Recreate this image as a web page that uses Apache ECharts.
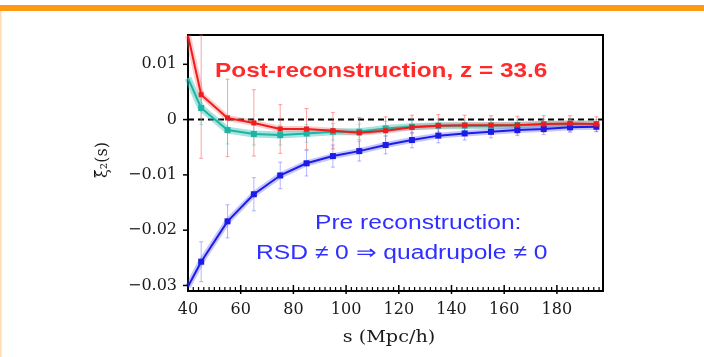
<!DOCTYPE html>
<html>
<head>
<meta charset="utf-8">
<script src="https://cdn.jsdelivr.net/npm/echarts@6/dist/echarts.min.js"></script>
<style>html,body{margin:0;padding:0;background:#fff;}#chart{width:704px;height:357px;}</style>
</head>
<body>
<div id="chart"></div>
<script>
// separation bins s (Mpc/h)
const sValues = [40,45,55,65,75,85,95,105,115,125,135,145,155,165,175,185,195];
// post-reconstruction quadrupole (red) and its errors
const postRecon = [0.0152,0.0045,0.0003,-0.0006,-0.0017,-0.0017,-0.0020,-0.0024,-0.0020,-0.0014,-0.0011,-0.0010,-0.0010,-0.0010,-0.0008,-0.0007,-0.0008];
const postReconErr = [0,0.0115,0.0070,0.0060,0.0044,0.0037,0.0033,0.0028,0.0025,0.0022,0.0020,0.0018,0.0017,0.0016,0.0015,0.0014,0.0013];
// teal curve and its errors
const tealCurve = [0.0075,0.0021,-0.0019,-0.0026,-0.0028,-0.0025,-0.0022,-0.0022,-0.0016,-0.0013,-0.0011,-0.0011,-0.0011,-0.0010,-0.0009,-0.0008,-0.0008];
const tealErr = [0,0.0030,0.0025,0.0020,0.0018,0.0016,0.0015,0.0014,0.0013,0.0012,0.0011,0.0010,0.0010,0.0009,0.0009,0.0008,0.0008];
// pre-reconstruction quadrupole (blue) and its errors
const preRecon = [-0.0302,-0.0257,-0.0184,-0.0135,-0.0101,-0.0079,-0.0066,-0.0057,-0.0046,-0.0037,-0.0029,-0.0025,-0.0022,-0.0019,-0.0017,-0.0014,-0.0013];
const preReconErr = [0,0.0036,0.0030,0.0030,0.0024,0.0023,0.0020,0.0018,0.0016,0.0014,0.0013,0.0012,0.0011,0.0010,0.0010,0.0009,0.0009];
// axes
const xRange = [40, 197.5];
const yRange = [-0.031, 0.0153];
const xTickStep = 20;
const xMinorStep = 2;
const yMajorTicks = [-0.03, -0.02, -0.01, 0, 0.01];
const zeroLineX = [40, 197.5];

const xTickMarks = [];
for (let v = xRange[0] + xMinorStep; v < xRange[1]; v += xMinorStep) {
  xTickMarks.push([v, yRange[0], (v % xTickStep === 0) ? 1 : 0]);
}

const chart = echarts.init(document.getElementById('chart'), null, {renderer: 'canvas'});

function pts(vals) {
  return sValues.map((s, i) => i === 0 ? {value: [s, vals[i]], symbol: 'none'} : [s, vals[i]]);
}
function errData(vals, errs) {
  return sValues.map((s, i) => [s, vals[i] - errs[i], vals[i] + errs[i]]).filter((d, i) => errs[i] > 0);
}
function errSeries(vals, errs, color, z) {
  return {
    type: 'custom', z: z, silent: true,
    data: errData(vals, errs),
    encode: {x: 0, y: [1, 2]},
    renderItem: function (params, api) {
      const x = api.value(0);
      const lo = Math.max(api.value(1), yRange[0]);
      const hi = Math.min(api.value(2), yRange[1]);
      const p1 = api.coord([x, lo]);
      const p2 = api.coord([x, hi]);
      const c = 2;
      const st = {stroke: color, lineWidth: 1};
      return {type: 'group', children: [
        {type: 'line', shape: {x1: p1[0], y1: p1[1], x2: p2[0], y2: p2[1]}, style: st},
        {type: 'line', shape: {x1: p1[0]-c, y1: p1[1], x2: p1[0]+c, y2: p1[1]}, style: st},
        {type: 'line', shape: {x1: p2[0]-c, y1: p2[1], x2: p2[0]+c, y2: p2[1]}, style: st}
      ]};
    }
  };
}
function bandSeries(vals, color, width, z) {
  return {type: 'line', z: z, silent: true, showSymbol: false, symbol: 'none',
    data: sValues.map((s, i) => [s, vals[i]]),
    lineStyle: {color: color, width: width}};
}
function mainSeries(vals, color, z, size) {
  return {type: 'line', z: z, data: pts(vals), symbol: 'rect', symbolSize: size, showSymbol: true,
    itemStyle: {color: color}, lineStyle: {color: color, width: 2}};
}

const option = {
  animation: false,
  grid: {left: 188, right: 101, top: 35, bottom: 66, show: true, borderColor: '#000', borderWidth: 2, backgroundColor: 'transparent'},
  xAxis: {
    type: 'value', min: xRange[0], max: xRange[1], interval: xTickStep,
    axisLine: {show: true, onZero: false, lineStyle: {color: '#000', width: 2}},
    axisTick: {show: false},
    splitLine: {show: false},
    axisLabel: {margin: 11, color: '#1a1a1a', fontFamily: 'DejaVu Serif', fontSize: 16,
      formatter: v => (Math.abs(v % xTickStep) < 1e-9 ? String(v) : '')}
  },
  yAxis: {
    type: 'value', min: yRange[0], max: yRange[1], interval: 0.001,
    axisLine: {show: true, onZero: false, lineStyle: {color: '#000', width: 2}},
    axisTick: {show: false},
    splitLine: {show: false},
    axisLabel: {margin: 11, color: '#1a1a1a', fontFamily: 'DejaVu Serif', fontSize: 16,
      formatter: function (v) {
        const k = Math.round(v * 100);
        if (Math.abs(v * 100 - k) > 1e-6) return '';
        if (k === 0) return '0';
        return (k < 0 ? '\u2212' : '') + (Math.abs(k) / 100).toFixed(2);
      }}
  },
  series: [
    {type: 'custom', z: 20, data: yMajorTicks.map(v => [xRange[0], v]), encode: {x: 0, y: 1},
      renderItem: function (params, api) {
        const p = api.coord([api.value(0), api.value(1)]);
        return {type: 'line', shape: {x1: p[0] - 5, y1: p[1], x2: p[0], y2: p[1]}, style: {stroke: '#000', lineWidth: 1.5}};
      }},
    {type: 'custom', z: 20, data: xTickMarks, encode: {x: 0, y: 1},
      renderItem: function (params, api) {
        const p = api.coord([api.value(0), api.value(1)]);
        const major = api.value(2) === 1;
        const up = major ? 6 : 4;
        const down = major ? 3 : 0;
        return {type: 'line', shape: {x1: p[0], y1: p[1] - up, x2: p[0], y2: p[1] + down},
          style: {stroke: '#000', lineWidth: major ? 1.5 : 1.2}};
      }},
    {type: 'line', z: 1, silent: true, symbol: 'none', data: zeroLineX.map(x => [x, 0]),
      lineStyle: {color: '#000', width: 2, type: [6, 4]}},
    errSeries(postRecon, postReconErr, 'rgba(255,70,70,0.5)', 2),
    errSeries(tealCurve, tealErr, 'rgba(70,190,200,0.45)', 2),
    errSeries(preRecon, preReconErr, 'rgba(90,90,255,0.45)', 2),
    bandSeries(tealCurve, 'rgba(60,195,185,0.45)', 7, 3),
    bandSeries(postRecon, 'rgba(255,110,110,0.35)', 6, 3),
    bandSeries(preRecon, 'rgba(90,90,255,0.35)', 6, 3),
    mainSeries(tealCurve, '#1fb3a3', 5, 6),
    mainSeries(preRecon, '#1c1ce6', 6, 6),
    mainSeries(postRecon, '#ee1c1c', 7, 5)
  ],
  graphic: [
    {type: 'rect', shape: {x: 0, y: 5, width: 704, height: 6}, style: {fill: '#ff9a14'}, silent: true},
    {type: 'rect', shape: {x: 0, y: 11, width: 1.5, height: 346}, style: {fill: '#ffdcb4'}, silent: true},
    {type: 'text', x: 215, y: 71, scaleX: 1.16, style: {text: 'Post-reconstruction, z = 33.6', fill: '#ff2a2a',
      font: 'bold 21px "Liberation Sans", Arial, sans-serif', align: 'left', verticalAlign: 'middle'}},
    {type: 'text', x: 315, y: 223, scaleX: 1.23, style: {text: 'Pre reconstruction:', fill: '#2f2fff',
      font: '20px "Liberation Sans", Arial, sans-serif', align: 'left', verticalAlign: 'middle'}},
    {type: 'text', x: 256, y: 253.5, scaleX: 1.23, style: {text: 'RSD \u2260 0 \u21d2 quadrupole \u2260 0', fill: '#2f2fff',
      font: '20px "Liberation Sans", Arial, sans-serif', align: 'left', verticalAlign: 'middle'}},
    {type: 'text', x: 389, y: 338, scaleX: 1.2, style: {text: 's (Mpc/h)', fill: '#1a1a1a',
      font: '16px "DejaVu Serif", serif', align: 'center', verticalAlign: 'middle'}},
    {type: 'text', x: 103, y: 160, rotation: Math.PI / 2, style: {text: '\u03be\u0303\u2082(s)', fill: '#1a1a1a',
      font: '16px "DejaVu Serif", serif', align: 'center', verticalAlign: 'middle'}}
  ]
};
chart.setOption(option);
</script>
</body>
</html>
